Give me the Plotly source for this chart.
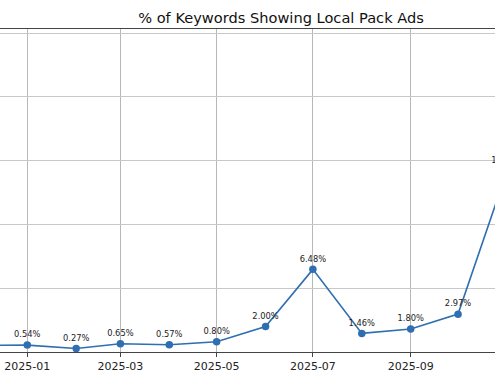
import plotly.graph_objects as go

months = ["2024-12-01", "2025-01-01", "2025-02-01", "2025-03-01", "2025-04-01", "2025-05-01",
          "2025-06-01", "2025-07-01", "2025-08-01", "2025-09-01", "2025-10-01", "2025-11-01"]
pct = [0.52, 0.54, 0.27, 0.65, 0.57, 0.80, 2.00, 6.48, 1.46, 1.80, 2.97, 14.20]
labels = [f"{v:.2f}%" for v in pct]

blue = "#2f6eb0"
font = "DejaVu Sans"

fig = go.Figure(go.Scatter(
    x=months, y=pct, mode="lines+markers+text",
    line=dict(color=blue, width=1.6),
    marker=dict(color=blue, size=7.5),
    text=labels, textposition="top center",
    textfont=dict(family=font, size=8.3, color="#222"),
    cliponaxis=True,
))

fig.update_layout(
    width=495, height=380,
    margin=dict(l=0, r=0, t=29, b=28, autoexpand=False),
    paper_bgcolor="white", plot_bgcolor="white",
    showlegend=False,
    title=dict(text="% of Keywords Showing Local Pack Ads",
               x=281/495, xanchor="center", xref="paper",
               y=1 - 18/380, yanchor="middle", yref="container",
               font=dict(family=font, size=14.6, color="#111")),
)
fig.update_xaxes(
    type="date", range=["2024-12-14 17:00", "2025-10-24 10:00"],
    tick0="2025-01-01", dtick="M2", tickformat="%Y-%m",
    showgrid=True, gridcolor="#b8b8b8", gridwidth=1,
    showline=True, linecolor="#444", linewidth=1, mirror=True,
    ticks="outside", ticklen=4, tickcolor="#444",
    tickfont=dict(family=font, size=11, color="#222"),
    automargin=False, zeroline=False,
)
fig.update_yaxes(
    range=[0, 25.33], dtick=5, tick0=0,
    showgrid=True, gridcolor="#c8c8c8", gridwidth=1,
    showticklabels=False, zeroline=False, showline=False,
    automargin=False,
)

fig.write_html("out.html", config={"displayModeBar": False},
               post_script="document.body.style.margin='0';document.body.style.overflow='hidden';")
